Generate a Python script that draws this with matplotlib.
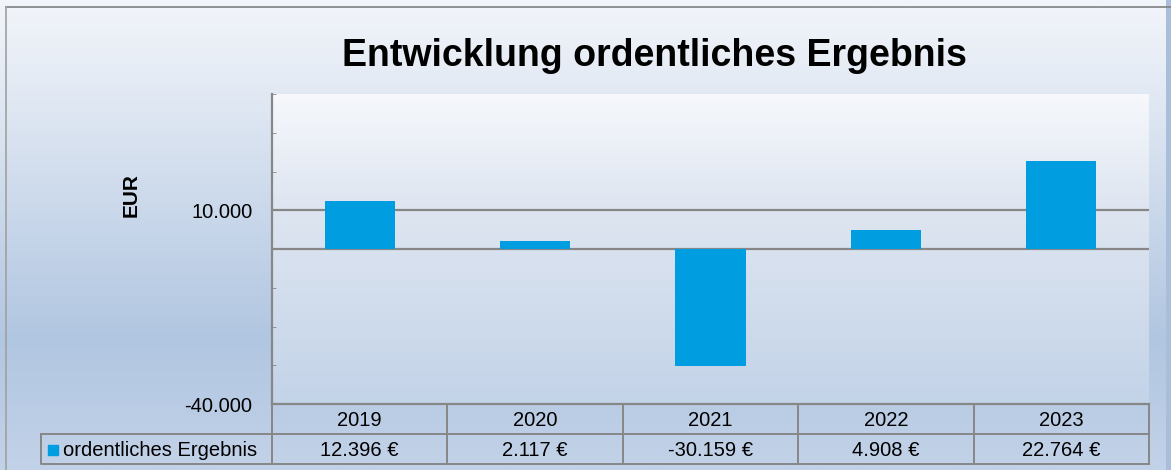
import matplotlib.pyplot as plt
import matplotlib.transforms as mtransforms
import numpy as np
from matplotlib.colors import LinearSegmentedColormap
from matplotlib.ticker import MultipleLocator, FuncFormatter

plt.rcParams['font.family'] = ['Liberation Sans', 'DejaVu Sans']

years = ['2019', '2020', '2021', '2022', '2023']
ergebnis = [12396, 2117, -30159, 4908, 22764]
series_name = 'ordentliches Ergebnis'
title = 'Entwicklung ordentliches Ergebnis'
y_major = [-40000, 10000]

W, H = 1171, 470
bar_color = '#009ee0'
line_gray = '#878787'
fs = 14.5


def de_num(v):
    return f'{v:,.0f}'.replace(',', '.')


fig = plt.figure(figsize=(W / 100, H / 100), dpi=100)

# background axes in pixel coordinates
bg = fig.add_axes([0, 0, 1, 1])
bg.set_xlim(0, W)
bg.set_ylim(H, 0)
bg.axis('off')
bg.set_zorder(0)
bg_cmap = LinearSegmentedColormap.from_list(
    'bg', [(0, '#f2f5fa'), (0.15, '#e6ecf5'), (0.72, '#b1c6e1'), (1, '#c2d2e8')])
grad = np.linspace(0, 1, 256).reshape(-1, 1)
bg.imshow(grad, cmap=bg_cmap, extent=[0, W, H, 0], aspect='auto', zorder=0)
bg.add_patch(plt.Rectangle((1166, 0), 5, H, color='#a8bedb', zorder=1, lw=0))
bg.plot([6, W], [7, 7], color='#808080', lw=1.2, zorder=2)
bg.plot([6, 6], [7, H], color='#a0a0a0', lw=1.2, zorder=2)

bg.text(654, 56, title, ha='center', va='center', fontsize=27, fontweight='bold')
bg.text(131, 195, 'EUR', ha='center', va='center', rotation=90,
        fontsize=15, fontweight='bold')

# plot area
x0, x1, y_top, y_bot = 272, 1149, 94, 404
ax = fig.add_axes([x0 / W, 1 - y_bot / H, (x1 - x0) / W, (y_bot - y_top) / H])
ax.set_zorder(1)
ax.patch.set_alpha(0)
pa_cmap = LinearSegmentedColormap.from_list(
    'pa', [(0, '#f6f8fc'), (0.35, '#dfe6f1'), (1, '#c3d3e8')])
ax.imshow(grad, cmap=pa_cmap, extent=[0, 1, 0, 1], transform=ax.transAxes,
          aspect='auto', zorder=0)

xs = np.arange(len(years))
ax.bar(xs, ergebnis, width=0.4, color=bar_color, zorder=3)
ax.set_xlim(-0.5, len(years) - 0.5)
ax.set_ylim(-40000, 40000)
ax.set_yticks(y_major)
ax.yaxis.set_minor_locator(MultipleLocator(10000))
ax.yaxis.set_major_formatter(FuncFormatter(lambda v, p: de_num(v)))
ax.tick_params(axis='y', which='both', direction='in', color=line_gray,
               labelsize=fs, pad=14)
ax.tick_params(axis='y', which='major', length=0)
ax.tick_params(axis='y', which='minor', length=3)
ax.set_xticks([])
ax.axhline(10000, color=line_gray, lw=1.6, zorder=2)
ax.axhline(0, color=line_gray, lw=1.6, zorder=2)
for s in ['top', 'right']:
    ax.spines[s].set_visible(False)
ax.spines['left'].set_color(line_gray)
ax.spines['left'].set_linewidth(1.6)
ax.spines['bottom'].set_color(line_gray)
ax.spines['bottom'].set_linewidth(1.6)

# data table below the plot: x in data units, y in pixels
tr = mtransforms.blended_transform_factory(ax.transData, bg.transData)
r0, r1, r2 = 404, 434, 464
lw = 1.4
xl, xr = -0.5, len(years) - 0.5
for yy in [r0, r1, r2]:
    bg.plot([xl, xr], [yy, yy], color=line_gray, lw=lw, transform=tr, zorder=3)
for i in range(len(years) + 1):
    bg.plot([i - 0.5, i - 0.5], [r0, r2], color=line_gray, lw=lw,
            transform=tr, zorder=3)
for i, (yr, v) in enumerate(zip(years, ergebnis)):
    bg.text(i, (r0 + r1) / 2 + 1, yr, ha='center', va='center', fontsize=fs,
            transform=tr, zorder=4)
    bg.text(i, (r1 + r2) / 2 + 1, de_num(v) + ' €', ha='center', va='center',
            fontsize=fs, transform=tr, zorder=4)

# legend cell
bg.plot([41, x0, x0, 41, 41], [r1, r1, r2, r2, r1], color=line_gray, lw=lw, zorder=3)
bg.plot([53], [(r1 + r2) / 2 + 1], marker='s', ms=7, color=bar_color, zorder=4)
bg.text(63, (r1 + r2) / 2 + 1, series_name, ha='left', va='center',
        fontsize=fs, zorder=4)

fig.savefig('out.png', dpi=100)
